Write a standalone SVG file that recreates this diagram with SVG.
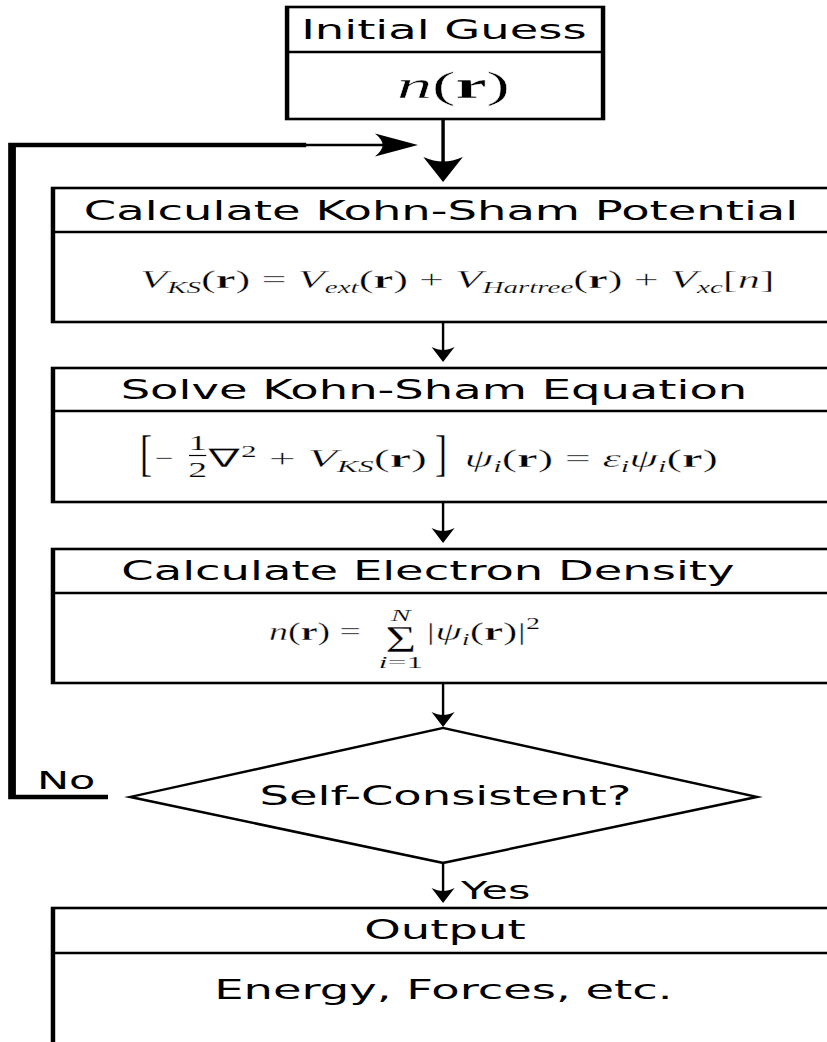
<svg xmlns="http://www.w3.org/2000/svg" width="827" height="1042" viewBox="0 0 827 1042">
<style>
.box{fill:#fff;stroke:#000;stroke-width:2.6}
.div{stroke:#000;stroke-width:2.6;fill:none}
.t{font-family:"DejaVu Sans",sans-serif;fill:#000}
.m{font-family:"Liberation Serif",serif;fill:#000;stroke:#fff;stroke-width:0.35}
.it{font-style:italic}
.b{font-weight:bold}
.sub{font-style:italic;stroke-width:0.18}
.sm{stroke-width:0.18}
.c{fill:none;stroke:#000}
</style>
<defs>
<marker id="big" markerUnits="userSpaceOnUse" orient="auto" refX="0" refY="0" markerWidth="60" markerHeight="60" overflow="visible">
<path d="M6,0 L-19,-11.5 C-13,-3 -13,3 -19,11.5 Z" fill="#000"/>
</marker>
<marker id="small" markerUnits="userSpaceOnUse" orient="auto" refX="0" refY="0" markerWidth="40" markerHeight="40" overflow="visible">
<path d="M4,0 L-11,-6.7 C-7,-2 -7,2 -11,6.7 Z" fill="#000"/>
</marker>
</defs>
<rect width="827" height="1042" fill="#fff"/>
<g transform="scale(1.72,1)">
<g id="connectors">
<path class="c" d="M257.6,119 V176" stroke-width="2" marker-end="url(#big)"/>
<path class="c" d="M62.8,797 H7 V145 H178" stroke-width="4.5"/>
<path class="c" d="M176,145 H237" stroke-width="2.4" marker-end="url(#big)"/>
<path class="c" d="M257.6,323 V358" stroke-width="1.4" marker-end="url(#small)"/>
<path class="c" d="M257.6,503 V539" stroke-width="1.4" marker-end="url(#small)"/>
<path class="c" d="M257.6,684 V723" stroke-width="1.4" marker-end="url(#small)"/>
<path class="c" d="M257.6,864 V899" stroke-width="1.4" marker-end="url(#small)"/>
<text class="t" x="21.5" y="789" style="font-size:25px">No</text>
<text class="t" x="268" y="899" style="font-size:25px">Yes</text>
</g>
<g id="initial">
<rect class="box" x="166.9" y="7" width="183.7" height="112"/>
<line class="div" x1="166.9" y1="52" x2="350.6" y2="52"/>
<text class="t" x="258.1" y="39" text-anchor="middle" style="font-size:27px">Initial Guess</text>
<text class="m" x="230.8" y="98" style="font-size:38px" textLength="65.7" lengthAdjust="spacingAndGlyphs"><tspan class="it">n</tspan>(<tspan class="b">r</tspan>)</text>
</g>
<g id="ks-potential">
<rect class="box" x="30.8" y="188" width="453.5" height="134"/>
<line class="div" x1="30.8" y1="232" x2="484.3" y2="232"/>
<text class="t" x="256.4" y="220" text-anchor="middle" style="font-size:27px">Calculate Kohn-Sham Potential</text>
<text class="m" x="81.4" y="288" style="font-size:26px" textLength="369" lengthAdjust="spacingAndGlyphs"><tspan class="it">V</tspan><tspan class="sub" style="font-size:17px" dy="5">KS</tspan><tspan dy="-5">(</tspan><tspan class="b">r</tspan>) = <tspan class="it">V</tspan><tspan class="sub" style="font-size:17px" dy="5">ext</tspan><tspan dy="-5">(</tspan><tspan class="b">r</tspan>) + <tspan class="it">V</tspan><tspan class="sub" style="font-size:17px" dy="5">Hartree</tspan><tspan dy="-5">(</tspan><tspan class="b">r</tspan>) + <tspan class="it">V</tspan><tspan class="sub" style="font-size:17px" dy="5">xc</tspan><tspan dy="-5">[</tspan><tspan class="it">n</tspan>]</text>
</g>
<g id="ks-equation">
<rect class="box" x="30.8" y="368" width="453.5" height="134"/>
<line class="div" x1="30.8" y1="411" x2="484.3" y2="411"/>
<text class="t" x="252.3" y="399" text-anchor="middle" style="font-size:27px">Solve Kohn-Sham Equation</text>
<text class="m" x="81.4" y="470" style="font-size:50px" textLength="7" lengthAdjust="spacingAndGlyphs">[</text>
<text class="m" x="90.1" y="467" style="font-size:26px" textLength="10.9" lengthAdjust="spacingAndGlyphs">−</text>
<text class="m sm" x="114.9" y="450" style="font-size:22px" text-anchor="middle">1</text>
<line x1="109.9" y1="455.5" x2="119.9" y2="455.5" stroke="#000" stroke-width="1.2"/>
<text class="m sm" x="114.9" y="477" style="font-size:22px" text-anchor="middle">2</text>
<text class="m" x="121" y="467" style="font-size:26px" textLength="127.3" lengthAdjust="spacingAndGlyphs">∇<tspan class="sm" style="font-size:17px" dy="-10">2</tspan><tspan dy="10"> + </tspan><tspan class="it">V</tspan><tspan class="sub" style="font-size:17px" dy="5">KS</tspan><tspan dy="-5">(</tspan><tspan class="b">r</tspan>)</text>
<text class="m" x="252.9" y="470" style="font-size:50px" textLength="7" lengthAdjust="spacingAndGlyphs">]</text>
<text class="m" x="270" y="467" style="font-size:26px" textLength="147.4" lengthAdjust="spacingAndGlyphs"><tspan class="it">ψ</tspan><tspan class="sub" style="font-size:17px" dy="5">i</tspan><tspan dy="-5">(</tspan><tspan class="b">r</tspan>) = <tspan class="it">ε</tspan><tspan class="sub" style="font-size:17px" dy="5">i</tspan><tspan class="it" dy="-5">ψ</tspan><tspan class="sub" style="font-size:17px" dy="5">i</tspan><tspan dy="-5">(</tspan><tspan class="b">r</tspan>)</text>
</g>
<g id="density">
<rect class="box" x="30.8" y="549" width="453.5" height="134"/>
<line class="div" x1="30.8" y1="593" x2="484.3" y2="593"/>
<text class="t" x="248.8" y="580" text-anchor="middle" style="font-size:27px">Calculate Electron Density</text>
<text class="m" x="156.4" y="640" style="font-size:26px" textLength="53.5" lengthAdjust="spacingAndGlyphs"><tspan class="it">n</tspan>(<tspan class="b">r</tspan>) =</text>
<text class="m" x="224" y="652" style="font-size:38px" textLength="18" lengthAdjust="spacingAndGlyphs">Σ</text>
<text class="m it sm" x="233" y="621" style="font-size:17px" text-anchor="middle">N</text>
<text class="m sm" x="220" y="668" style="font-size:16px" textLength="26" lengthAdjust="spacingAndGlyphs"><tspan class="it">i</tspan>=1</text>
<text class="m" x="248" y="640" style="font-size:26px" textLength="66" lengthAdjust="spacingAndGlyphs">|<tspan class="it">ψ</tspan><tspan class="sub" style="font-size:17px" dy="5">i</tspan><tspan dy="-5">(</tspan><tspan class="b">r</tspan>)|<tspan class="sm" style="font-size:17px" dy="-11">2</tspan></text>
</g>
<g id="decision">
<polygon points="75.6,797 257.6,728 440.1,797 257.6,863" fill="#fff" stroke="#000" stroke-width="2.4"/>
<text class="t" x="259" y="805" text-anchor="middle" style="font-size:27px">Self-Consistent?</text>
</g>
<g id="output">
<rect class="box" x="30.8" y="908" width="453.5" height="150"/>
<line class="div" x1="30.8" y1="953" x2="484.3" y2="953"/>
<text class="t" x="258.7" y="939" text-anchor="middle" style="font-size:27px">Output</text>
<text class="t" x="257.8" y="999" text-anchor="middle" style="font-size:27px">Energy, Forces, etc.</text>
</g>
</g>
</svg>
